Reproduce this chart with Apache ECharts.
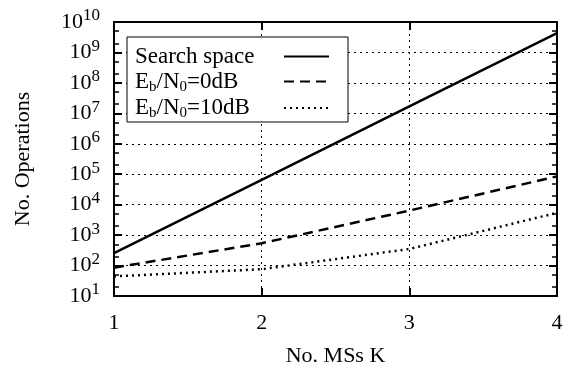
<!DOCTYPE html>
<html>
<head>
<meta charset="utf-8">
<script src="https://cdn.jsdelivr.net/npm/echarts@6/dist/echarts.min.js"></script>
<style>
html,body{margin:0;padding:0;background:#fff;}
#main{width:567px;height:372px;}
</style>
</head>
<body>
<div id="main"></div>
<script>
//横坐标 MS 个数
var msK=[1,2,3,4];
//各曲线数据
var searchSpace=[256,65536,16777216,4294967296];
var ebn0_0dB=[85,540,6400,85000];
var ebn0_10dB=[44,76,350,5400];
var seriesNames=['Search space','Eb/N0=0dB','Eb/N0=10dB'];
//图例显示文字（带下标）
var legendLabels={
	'Search space':'{t|Search space}',
	'Eb/N0=0dB':'{t|E}{sub|b}{t|/N}{sub|0}{t|=0dB}',
	'Eb/N0=10dB':'{t|E}{sub|b}{t|/N}{sub|0}{t|=10dB}'
};
//纵轴次刻度 (每个十倍程内的 2 和 5)
var minorSteps=[2,5];
var decades=[10,100,1e3,1e4,1e5,1e6,1e7,1e8,1e9];

var font='"Liberation Serif","DejaVu Serif",serif';

function pairs(ys){
	var arr=[];
	for(var i=0;i<msK.length;i++){
		arr.push([msK[i],ys[i]]);
	}
	return arr;
}
var minorVals=[];
for(var d=0;d<decades.length;d++){
	for(var m=0;m<minorSteps.length;m++){
		minorVals.push(decades[d]*minorSteps[m]);
	}
}

function minorAxis(pos){
	return {
		type:'log',logBase:10,min:10,max:1e10,position:pos,
		axisLine:{show:false},
		axisTick:{show:true,inside:true,length:5,customValues:minorVals,lineStyle:{color:'#000',width:1.5}},
		axisLabel:{show:false},
		splitLine:{show:false}
	};
}

var chart=echarts.init(document.getElementById('main'));
var option={
	backgroundColor:'#fff',
	animation:false,
	grid:{left:114,right:10,top:22,bottom:74,show:true,borderColor:'#000',borderWidth:2,backgroundColor:'transparent'},
	legend:{
		orient:'vertical',
		left:127,top:37,
		align:'right',
		backgroundColor:'#fff',
		borderColor:'#000',borderWidth:1,
		padding:[8,18,1,8],
		itemGap:2,
		itemWidth:45,itemHeight:26,
		itemStyle:{opacity:0,borderWidth:0},
		data:seriesNames,
		formatter:function(name){return legendLabels[name];},
		textStyle:{
			fontFamily:font,fontSize:23,color:'#000',width:144,
			rich:{
				t:{fontFamily:font,fontSize:23,color:'#000',align:'left',lineHeight:26},
				sub:{fontFamily:font,fontSize:15,color:'#000',align:'left',verticalAlign:'bottom',lineHeight:17,padding:[9,0,0,0]}
			}
		}
	},
	xAxis:[{
		type:'value',min:1,max:4,interval:1,
		name:'No. MSs K',nameLocation:'middle',nameGap:49,
		nameTextStyle:{fontFamily:font,fontSize:22,color:'#000'},
		axisLine:{show:true,lineStyle:{color:'#000',width:2}},
		axisTick:{show:true,inside:true,length:8,lineStyle:{color:'#000',width:2}},
		axisLabel:{fontFamily:font,fontSize:22,color:'#000',margin:16},
		splitLine:{show:true,lineStyle:{color:'#000',width:1,type:[2,4]}}
	},{
		type:'value',min:1,max:4,interval:1,position:'top',
		axisLine:{show:true,lineStyle:{color:'#000',width:2}},
		axisTick:{show:true,inside:true,length:8,lineStyle:{color:'#000',width:2}},
		axisLabel:{show:false},
		splitLine:{show:false}
	}],
	yAxis:[{
		type:'log',logBase:10,min:10,max:1e10,splitNumber:9,
		name:'No. Operations',nameLocation:'middle',nameGap:80,
		nameTextStyle:{fontFamily:font,fontSize:22,color:'#000'},
		axisLine:{show:true,lineStyle:{color:'#000',width:2}},
		axisTick:{show:true,inside:true,length:8,lineStyle:{color:'#000',width:2}},
		axisLabel:{
			fontFamily:font,fontSize:22,color:'#000',margin:14,
			formatter:function(v){
				var e=Math.round(Math.log(v)/Math.LN10);
				return '{b|10}{e|'+e+'}';
			},
			rich:{
				b:{fontFamily:font,fontSize:22,color:'#000'},
				e:{fontFamily:font,fontSize:17,color:'#000',verticalAlign:'top',padding:[0,0,12,0]}
			}
		},
		splitLine:{show:true,lineStyle:{color:'#000',width:1,type:[2,4]}}
	},{
		type:'log',logBase:10,min:10,max:1e10,splitNumber:9,position:'right',
		axisLine:{show:true,lineStyle:{color:'#000',width:2}},
		axisTick:{show:true,inside:true,length:8,lineStyle:{color:'#000',width:2}},
		axisLabel:{show:false},
		splitLine:{show:false}
	},minorAxis('left'),minorAxis('right')],
	series:[{
		name:seriesNames[0],type:'line',symbol:'none',
		lineStyle:{color:'#000',width:2.5,type:'solid'},
		itemStyle:{color:'#000'},
		data:pairs(searchSpace)
	},{
		name:seriesNames[1],type:'line',symbol:'none',
		lineStyle:{color:'#000',width:2.5,type:[10,6]},
		itemStyle:{color:'#000'},
		data:pairs(ebn0_0dB)
	},{
		name:seriesNames[2],type:'line',symbol:'none',
		lineStyle:{color:'#000',width:2.5,type:[2,4]},
		itemStyle:{color:'#000'},
		data:pairs(ebn0_10dB)
	}]
};
chart.setOption(option);
</script>
</body>
</html>
